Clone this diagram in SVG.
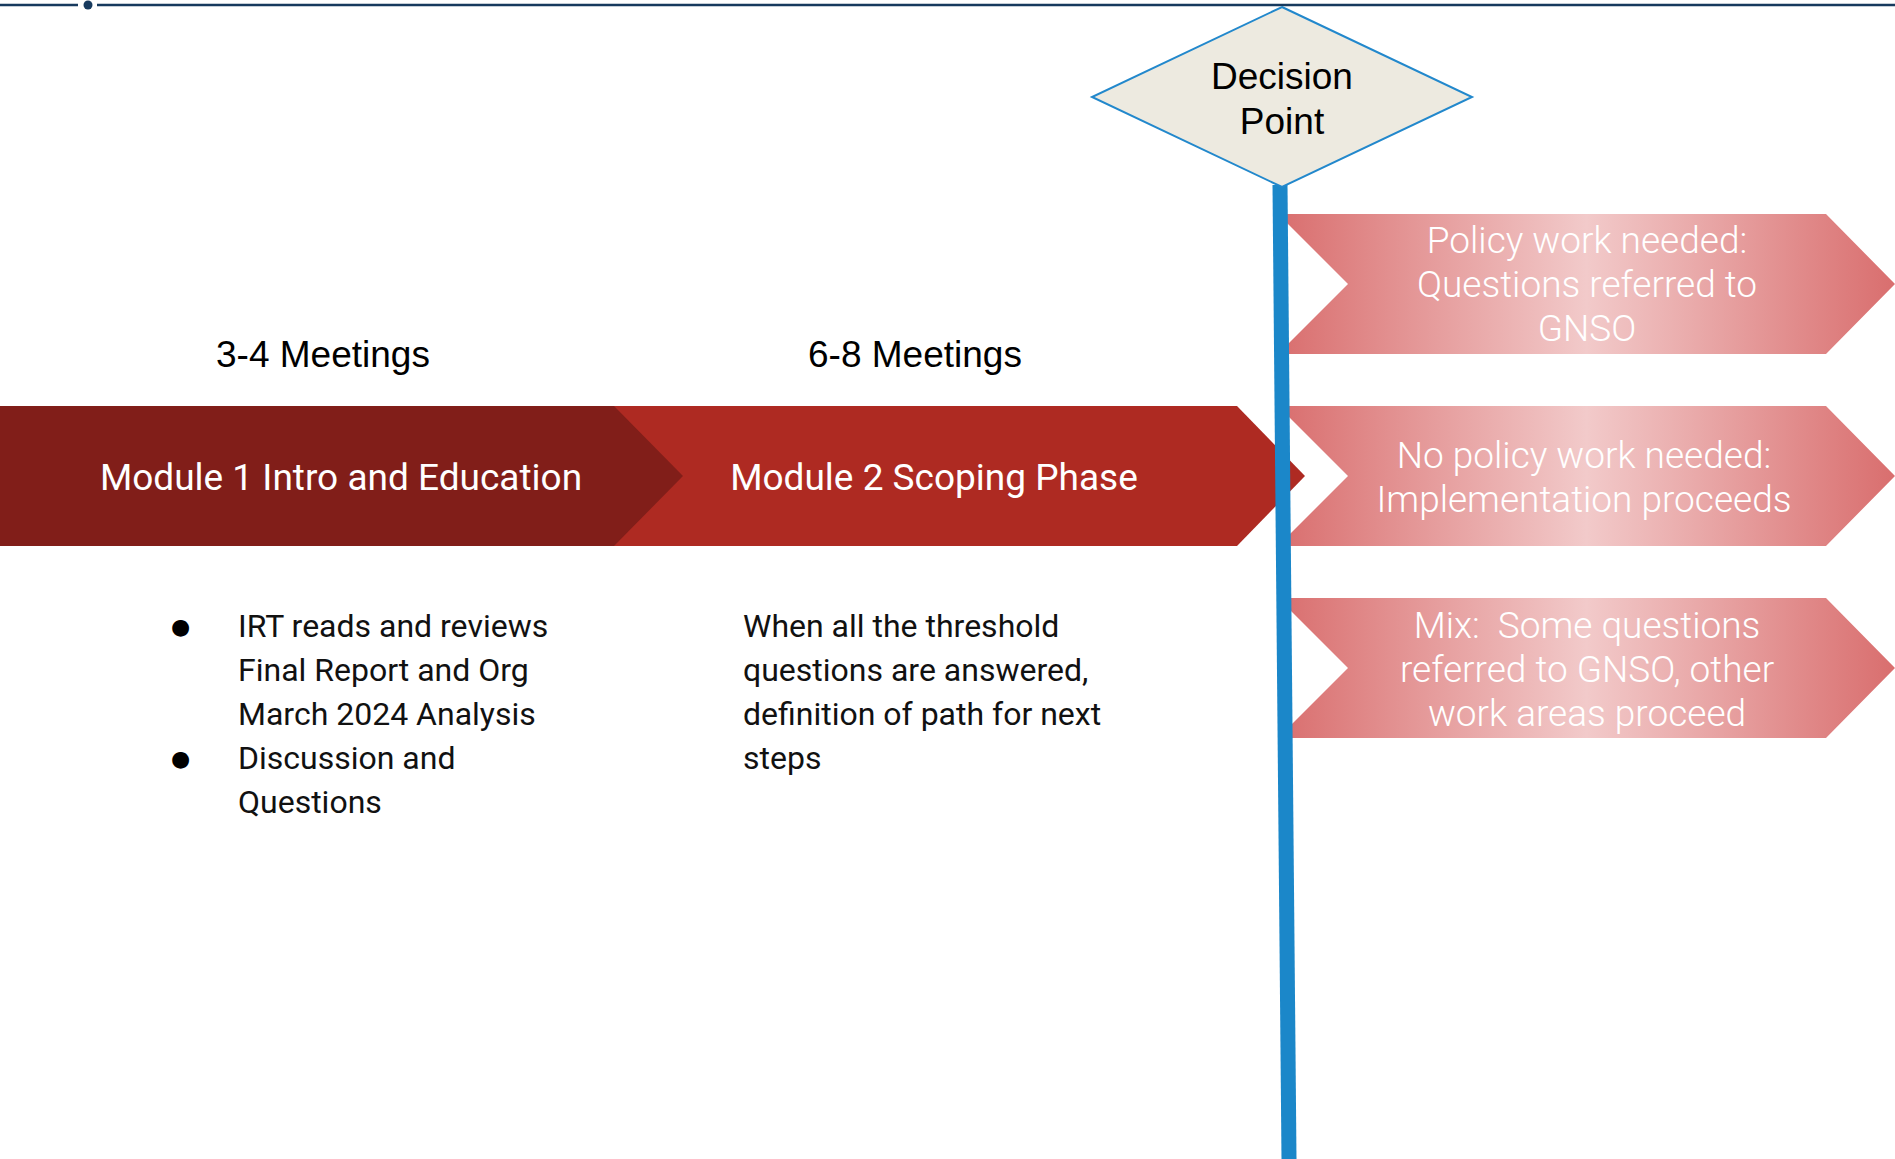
<svg xmlns="http://www.w3.org/2000/svg" width="1895" height="1159" viewBox="0 0 1895 1159">
<style>
.rob{font-family:Roboto,"Liberation Sans",sans-serif}
.lab{font-family:"Liberation Sans",Arial,sans-serif;font-size:37px;fill:#000}
.mod{font-size:37px;fill:#fff;text-anchor:middle}
.out{font-size:37px;font-weight:300;fill:#fff;text-anchor:middle;white-space:pre}
.body{font-size:32px;fill:#111}
.bul{font-family:"DejaVu Sans",sans-serif;font-size:22px;fill:#000}
.pink{fill:url(#pg)}
</style>
<defs>
<linearGradient id="pg" x1="0" y1="0" x2="1" y2="0">
<stop offset="0" stop-color="#d96e6e"/>
<stop offset="0.5" stop-color="#f2caca"/>
<stop offset="1" stop-color="#d96e6e"/>
</linearGradient>
</defs>
<rect width="1895" height="1159" fill="#fff"/>
<g id="topline">
<line x1="0" y1="5" x2="78" y2="5" stroke="#173a5e" stroke-width="2.5"/>
<circle cx="88" cy="5" r="4.5" fill="#173a5e"/>
<line x1="97" y1="5" x2="1895" y2="5" stroke="#173a5e" stroke-width="2.5"/>
</g>
<g id="module2">
<polygon points="614,406 1237,406 1305,476 1237,546 614,546" fill="#ae2a22"/>
<text class="rob mod" x="934" y="490">Module 2 Scoping Phase</text>
</g>
<g id="module1">
<polygon points="0,406 614,406 683,476 614,546 0,546" fill="#811e19"/>
<text class="rob mod" x="341" y="490">Module 1 Intro and Education</text>
</g>
<g id="out1">
<polygon class="pink" points="1278,214 1826,214 1895,284 1826,354 1278,354 1348,284"/>
<text class="rob out" x="1587" y="253">Policy work needed:</text>
<text class="rob out" x="1587" y="297">Questions referred to</text>
<text class="rob out" x="1587" y="341">GNSO</text>
</g>
<g id="out2">
<polygon class="pink" points="1278,406 1826,406 1895,476 1826,546 1278,546 1348,476"/>
<text class="rob out" x="1584" y="468">No policy work needed:</text>
<text class="rob out" x="1584" y="512">Implementation proceeds</text>
</g>
<g id="out3">
<polygon class="pink" points="1278,598 1826,598 1895,668 1826,738 1278,738 1348,668"/>
<text class="rob out" x="1587" y="638" xml:space="preserve">Mix:  Some questions</text>
<text class="rob out" x="1587" y="682">referred to GNSO, other</text>
<text class="rob out" x="1587" y="726">work areas proceed</text>
</g>
<g id="connectors">
<line x1="1280" y1="185" x2="1289" y2="1159" stroke="#1b87c9" stroke-width="15"/>
</g>
<g id="decision">
<polygon points="1282,7 1472,97 1282,187 1092,97" fill="#edeae0" stroke="#2288cc" stroke-width="2"/>
<text class="lab" x="1282" y="89" text-anchor="middle">Decision</text>
<text class="lab" x="1282" y="134" text-anchor="middle">Point</text>
</g>
<g id="meetings">
<text class="lab" x="323" y="367" text-anchor="middle">3-4 Meetings</text>
<text class="lab" x="915" y="367" text-anchor="middle">6-8 Meetings</text>
</g>
<g id="notes1">
<text class="bul" x="171" y="634">●</text>
<text class="rob body" x="238" y="637">IRT reads and reviews</text>
<text class="rob body" x="238" y="681">Final Report and Org</text>
<text class="rob body" x="238" y="725">March 2024 Analysis</text>
<text class="bul" x="171" y="766">●</text>
<text class="rob body" x="238" y="769">Discussion and</text>
<text class="rob body" x="238" y="813">Questions</text>
</g>
<g id="notes2">
<text class="rob body" x="743" y="637">When all the threshold</text>
<text class="rob body" x="743" y="681">questions are answered,</text>
<text class="rob body" x="743" y="725">definition of path for next</text>
<text class="rob body" x="743" y="769">steps</text>
</g>
</svg>
